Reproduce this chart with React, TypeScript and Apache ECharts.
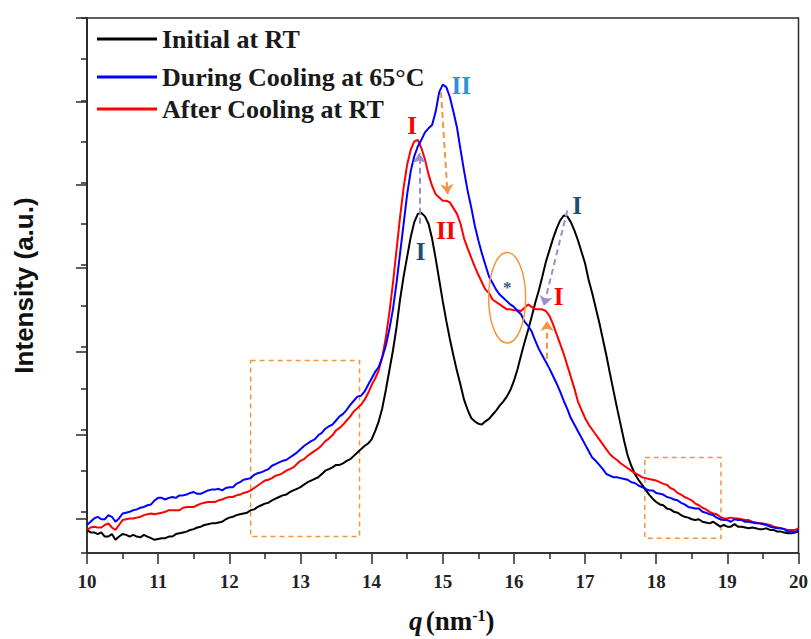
import React, { useEffect, useRef } from "react";
import * as echarts from "echarts";

// q sampling grid (nm^-1)
const Q_START = 10;
const Q_STEP = 0.05;

// Intensity (a.u.), one value per q step
const initialAtRT = [
  28, 25, 25, 23, 25, 20, 20, 23, 16, 20, 23, 22, 20, 22, 20, 19, 22, 20, 18, 16,
  17, 18, 18, 20, 20, 23, 24, 25, 26, 28, 29, 31, 32, 34, 35, 36, 36, 37, 38, 41,
  43, 44, 46, 47, 48, 49, 52, 53, 56, 58, 60, 61, 64, 66, 68, 70, 71, 74, 76, 78,
  80, 83, 86, 88, 90, 92, 96, 100, 102, 104, 107, 107, 109, 112, 114, 118, 122, 126, 130, 133,
  138, 148, 160, 176, 198, 222, 246, 274, 308, 336, 360, 384, 402, 412, 413, 409, 400, 382, 358, 332,
  306, 282, 260, 240, 221, 204, 186, 174, 164, 160, 157, 156, 160, 163, 168, 173, 179, 184, 190, 198,
  209, 223, 240, 256, 271, 287, 304, 319, 336, 354, 368, 382, 394, 404, 410, 409, 402, 392, 380, 366,
  352, 332, 316, 298, 280, 260, 240, 218, 197, 176, 156, 136, 118, 106, 96, 89, 83, 77, 71, 66,
  62, 59, 58, 54, 53, 50, 49, 46, 44, 43, 41, 40, 41, 38, 37, 36, 38, 35, 32, 34,
  32, 32, 35, 32, 32, 31, 30, 31, 30, 29, 29, 30, 28, 28, 26, 26, 25, 24, 24, 25,
  26,
];

const duringCooling65 = [
  34, 38, 42, 44, 41, 41, 46, 44, 38, 42, 48, 49, 50, 52, 53, 55, 56, 58, 59, 64,
  67, 67, 65, 67, 68, 67, 70, 70, 71, 73, 74, 72, 72, 74, 76, 77, 77, 78, 76, 79,
  80, 80, 84, 86, 89, 90, 91, 95, 97, 98, 100, 102, 106, 108, 110, 112, 113, 116, 119, 122,
  126, 130, 133, 136, 138, 143, 146, 151, 154, 156, 161, 166, 169, 174, 180, 185, 190, 191, 196, 204,
  212, 220, 226, 238, 252, 272, 296, 328, 364, 400, 436, 464, 482, 494, 502, 511, 516, 520, 536, 560,
  569, 566, 554, 536, 517, 490, 464, 440, 420, 398, 380, 364, 350, 336, 328, 320, 314, 310, 306, 302,
  299, 294, 290, 281, 276, 269, 258, 248, 240, 232, 224, 215, 206, 196, 185, 175, 164, 156, 148, 140,
  132, 124, 116, 112, 107, 102, 96, 94, 92, 92, 91, 90, 89, 86, 85, 82, 80, 78, 76, 76,
  73, 72, 71, 68, 67, 65, 64, 61, 59, 56, 55, 54, 54, 50, 49, 47, 46, 43, 41, 40,
  40, 38, 41, 40, 40, 38, 38, 37, 36, 36, 35, 34, 32, 31, 30, 30, 29, 26, 26, 25,
  28,
];

const afterCoolingRT = [
  28, 31, 32, 31, 31, 34, 36, 31, 28, 34, 40, 41, 42, 42, 43, 44, 46, 47, 48, 47,
  48, 49, 50, 52, 52, 52, 52, 55, 56, 56, 56, 58, 60, 61, 62, 62, 62, 64, 65, 67,
  68, 68, 70, 71, 73, 74, 76, 79, 82, 85, 88, 89, 91, 94, 95, 97, 100, 102, 104, 108,
  112, 114, 118, 121, 124, 127, 131, 136, 139, 143, 149, 152, 156, 161, 166, 172, 176, 180, 186, 194,
  204, 212, 222, 238, 262, 292, 328, 368, 408, 444, 472, 490, 500, 502, 492, 478, 460, 446, 436, 432,
  428, 428, 426, 419, 412, 400, 382, 370, 359, 348, 338, 329, 320, 316, 308, 305, 302, 299, 296, 296,
  295, 295, 294, 298, 302, 299, 296, 296, 296, 294, 288, 278, 266, 254, 242, 228, 214, 200, 184, 174,
  164, 156, 150, 144, 138, 132, 126, 120, 116, 113, 109, 106, 103, 100, 97, 95, 92, 91, 90, 89,
  88, 86, 84, 83, 79, 77, 73, 71, 68, 66, 64, 60, 58, 55, 53, 50, 48, 47, 44, 42,
  42, 43, 42, 42, 41, 40, 40, 38, 37, 36, 36, 35, 34, 32, 31, 30, 29, 28, 28, 28,
  30,
];

const SERIES_NAMES = ["Initial at RT", "During Cooling at 65°C", "After Cooling at RT"];
const SERIES_COLORS = ["#000000", "#0000ff", "#ff0000"];

const X_MIN = 10;
const X_MAX = 20;
const X_INTERVAL = 1;
const Y_MIN = 0;
const Y_MAX = 650;
const Y_MINOR = 50;
const Y_MAJOR_START = 50;
const Y_MAJOR = 100;

// annotations (data coordinates: q, intensity)
const dashedBoxes = [
  [12.3, 234, 13.83, 20],
  [17.84, 116, 18.91, 18],
];
const ORANGE = "#f7943e";
const PURPLE = "#a08bd0";
const arrows = [
  { from: [14.67, 400], to: [14.67, 486], color: PURPLE },
  { from: [14.975, 560], to: [15.068, 436], color: ORANGE },
  { from: [16.75, 416], to: [16.42, 300], color: PURPLE },
  { from: [16.466, 236], to: [16.466, 282], color: ORANGE },
];
const peakLabels = [
  { text: "I", at: [14.57, 520], color: "#ff0000", size: 25 },
  { text: "II", at: [15.26, 568], color: "#2e94d8", size: 25 },
  { text: "II", at: [15.045, 392], color: "#ff0000", size: 25 },
  { text: "I", at: [14.69, 366], color: "#1f4e70", size: 25 },
  { text: "I", at: [16.89, 422], color: "#1f4e70", size: 25 },
  { text: "I", at: [16.63, 312], color: "#ff0000", size: 25 },
  { text: "*", at: [15.905, 322], color: "#3a5a7a", size: 17 },
];
const ellipseMark = { q: 15.905, v: 310, dq: 0.26, dv: 55 };

const W = 811;
const H = 639;
const GRID_LEFT = 87;
const GRID_RIGHT = 11;
const GRID_TOP = 18;
const GRID_BOTTOM = 79;
const LEGEND_TOPS = [26, 64, 96];

const serif = "'Liberation Serif', 'Times New Roman', serif";
const sans = "'Liberation Sans', Arial, sans-serif";
const axisColor = "#2a2a2a";

function pairs(vals: number[]) {
  return vals.map((v, i) => [Math.round((Q_START + i * Q_STEP) * 100) / 100, v]);
}

function buildOption() {
  const plotH = H - GRID_TOP - GRID_BOTTOM;
  const bottom2 = GRID_BOTTOM + (plotH * (Y_MAJOR_START - Y_MIN)) / (Y_MAX - Y_MIN);
  const lineStyle = { color: axisColor, width: 1.5 };
  const datasets = [initialAtRT, duringCooling65, afterCoolingRT];
  const order = [0, 2, 1];

  const series: any[] = order.map((idx) => ({
    name: SERIES_NAMES[idx],
    type: "line",
    xAxisIndex: 0,
    yAxisIndex: 0,
    data: pairs(datasets[idx]),
    showSymbol: false,
    symbol: "none",
    lineStyle: { color: SERIES_COLORS[idx], width: 2 },
    itemStyle: { color: SERIES_COLORS[idx] },
    z: 2 + order.indexOf(idx),
  }));

  const last = series[series.length - 1];
  last.markArea = {
    silent: true,
    itemStyle: {
      color: "rgba(0,0,0,0)",
      borderColor: ORANGE,
      borderWidth: 1.5,
      borderType: [5, 4],
    },
    data: dashedBoxes.map((b) => [{ coord: [b[0], b[1]] }, { coord: [b[2], b[3]] }]),
  };
  last.markLine = {
    silent: true,
    symbol: ["none", "arrow"],
    symbolSize: 10,
    label: { show: false },
    data: arrows.map((a) => [
      { coord: a.from, lineStyle: { color: a.color, type: [6, 4], width: 2 } },
      { coord: a.to },
    ]),
  };
  last.markPoint = {
    silent: true,
    symbol: "rect",
    symbolSize: 1,
    itemStyle: { color: "rgba(0,0,0,0)" },
    label: {
      show: true,
      position: "inside",
      formatter: "{b}",
      fontFamily: serif,
      fontWeight: "bold",
      fontSize: 25,
    },
    data: peakLabels.map((p) => ({
      name: p.text,
      coord: p.at,
      label: { color: p.color, fontSize: p.size },
    })),
  };

  return {
    animation: false,
    backgroundColor: "#ffffff",
    grid: [
      {
        left: GRID_LEFT,
        right: GRID_RIGHT,
        top: GRID_TOP,
        bottom: GRID_BOTTOM,
        show: true,
        borderColor: axisColor,
        borderWidth: 1.5,
        backgroundColor: "rgba(0,0,0,0)",
      },
      { left: GRID_LEFT, right: GRID_RIGHT, top: GRID_TOP, bottom: bottom2 },
    ],
    legend: SERIES_NAMES.map((name, i) => ({
      data: [name],
      left: 97,
      top: LEGEND_TOPS[i],
      padding: 0,
      itemWidth: 60,
      itemHeight: 3,
      icon: "rect",
      selectedMode: false,
      textStyle: { fontFamily: serif, fontWeight: "bold", fontSize: 26, color: "#1a1a1a" },
    })),
    xAxis: [
      {
        gridIndex: 0,
        type: "value",
        min: X_MIN,
        max: X_MAX,
        interval: X_INTERVAL,
        axisLine: { show: true, lineStyle },
        axisTick: { show: true, length: 11, inside: false, lineStyle },
        minorTick: { show: true, splitNumber: 2, length: 6, lineStyle },
        splitLine: { show: false },
        minorSplitLine: { show: false },
        axisLabel: {
          fontFamily: serif,
          fontWeight: "bold",
          fontSize: 19,
          color: "#222",
          margin: 19,
        },
        name: "{q|q} {n|(nm}{s|-1}{n|)}",
        nameLocation: "middle",
        nameGap: 54,
        nameTextStyle: {
          padding: [0, 0, 0, 18],
          rich: {
            q: { fontFamily: serif, fontStyle: "italic", fontWeight: "bold", fontSize: 27, color: "#111" },
            n: { fontFamily: serif, fontWeight: "bold", fontSize: 27, color: "#111" },
            s: { fontFamily: serif, fontWeight: "bold", fontSize: 16, color: "#111", verticalAlign: "top" },
          },
        },
      },
      { gridIndex: 1, type: "value", min: X_MIN, max: X_MAX, show: false },
    ],
    yAxis: [
      {
        gridIndex: 0,
        type: "value",
        min: Y_MIN,
        max: Y_MAX,
        interval: Y_MINOR,
        axisLine: { show: true, lineStyle },
        axisTick: { show: true, length: 6, inside: false, lineStyle },
        axisLabel: { show: false },
        splitLine: { show: false },
        name: "Intensity (a.u.)",
        nameLocation: "middle",
        nameGap: 50,
        nameTextStyle: { fontFamily: sans, fontWeight: "bold", fontSize: 26, color: "#111" },
      },
      {
        gridIndex: 1,
        type: "value",
        min: Y_MAJOR_START,
        max: Y_MAX,
        interval: Y_MAJOR,
        axisLine: { show: true, lineStyle },
        axisTick: { show: true, length: 11, inside: false, lineStyle },
        axisLabel: { show: false },
        splitLine: { show: false },
      },
    ],
    series,
  };
}

export default function App() {
  const ref = useRef<HTMLDivElement>(null);
  useEffect(() => {
    if (!ref.current) return;
    const chart = echarts.init(ref.current, null, { renderer: "svg" });
    chart.setOption(buildOption() as any);
    const c = chart.convertToPixel({ gridIndex: 0 } as any, [ellipseMark.q, ellipseMark.v]) as number[];
    const e = chart.convertToPixel({ gridIndex: 0 } as any, [
      ellipseMark.q + ellipseMark.dq,
      ellipseMark.v + ellipseMark.dv,
    ]) as number[];
    chart.setOption({
      graphic: [
        {
          type: "ellipse",
          silent: true,
          z: 100,
          shape: { cx: c[0], cy: c[1], rx: Math.abs(e[0] - c[0]), ry: Math.abs(c[1] - e[1]) },
          style: { fill: "none", stroke: ORANGE, lineWidth: 1.5 },
        },
      ],
    });
    return () => chart.dispose();
  }, []);
  return (
    <div
      ref={ref}
      style={{ position: "fixed", left: 0, top: 0, width: W, height: H, background: "#fff" }}
    />
  );
}
